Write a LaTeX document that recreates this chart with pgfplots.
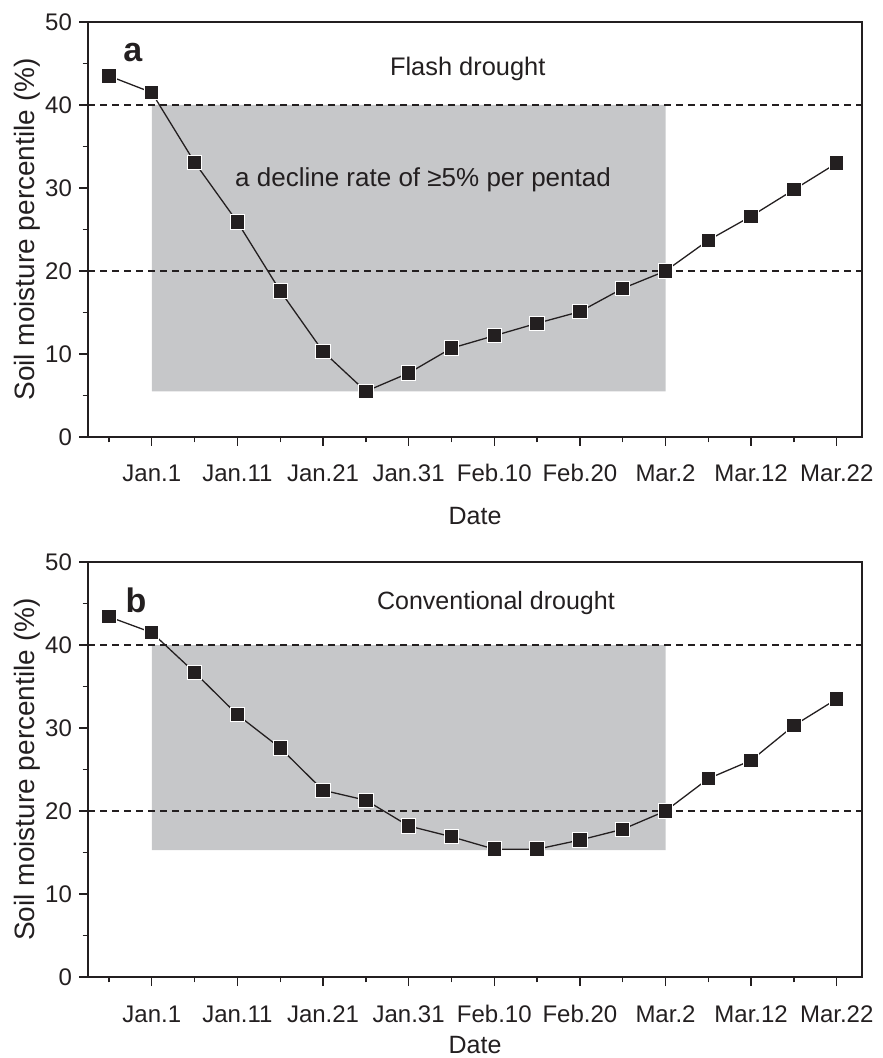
\documentclass[border=0pt]{standalone}
\usepackage{fontspec}
\setmainfont{Liberation Sans}
\usepackage{pgfplots}
\pgfplotsset{compat=1.18}

\definecolor{shade}{RGB}{198,199,201}
\definecolor{ink}{RGB}{35,31,32}

\pgfplotstableread{
x y
0 43.5
1 41.5
2 33.1
3 25.9
4 17.6
5 10.3
6 5.5
7 7.7
8 10.7
9 12.2
10 13.7
11 15.1
12 17.9
13 20.0
14 23.7
15 26.6
16 29.8
17 33.0
}\flash

\pgfplotstableread{
x y
0 43.4
1 41.5
2 36.7
3 31.6
4 27.6
5 22.5
6 21.3
7 18.2
8 16.9
9 15.4
10 15.4
11 16.5
12 17.8
13 20.0
14 23.9
15 26.1
16 30.3
17 33.5
}\conv

\pgfplotsset{
  panel/.style={
    width=387pt, height=207.5pt, scale only axis,
    xmin=-0.49, xmax=17.59, ymin=0, ymax=50,
    xtick={1,3,...,17},
    xticklabels={Jan.1,Jan.11,Jan.21,Jan.31,Feb.10,Feb.20,Mar.2,Mar.12,Mar.22},
    minor xtick={0,2,...,16},
    ytick={0,10,...,50}, minor ytick={5,15,...,45},
    tick align=outside, xtick pos=bottom, ytick pos=left,
    major tick length=4.5pt, minor tick length=2.7pt,
    axis line style={line width=0.8pt, ink},
    tick style={ink, line width=0.7pt},
    /pgf/number format/assume math mode=true,
    xticklabel style={font=\fontsize{12}{14}\selectfont, text=ink, anchor=base, yshift=-18pt},
    yticklabel style={font=\fontsize{12}{14}\selectfont, text=ink},
    ylabel={Soil moisture percentile (\%)},
    ylabel style={font=\fontsize{14}{16}\selectfont, text=ink, at={(axis description cs:0,0.5)}, anchor=center, yshift=30.5pt},
    xlabel={Date},
    xlabel style={font=\fontsize{12.5}{14}\selectfont, text=ink, at={(axis description cs:0.5,0)}, anchor=base},
    clip=false,
  },
  thr/.style={ink, line width=0.6pt, dash pattern=on 3.5pt off 2.5pt, forget plot},
  dat/.style={ink, line width=0.65pt, mark=square*, mark size=3.6pt,
    mark options={fill=ink, draw=white, line width=0.5pt, solid}},
}

\begin{document}
\begin{tikzpicture}
\path[use as bounding box] (0,0) rectangle (441pt,-529pt);

\begin{axis}[panel, at={(44pt,-11pt)}, anchor=north west, xlabel style={yshift=-44pt}]
\addplot[fill=shade, draw=none] coordinates {(1,5.5) (13,5.5) (13,40) (1,40) (1,5.5)};
\addplot[thr] coordinates {(-0.49,40) (17.59,40)};
\addplot[thr] coordinates {(-0.49,20) (17.59,20)};
\addplot[dat] table[x=x, y=y] {\flash};
\node[font=\bfseries\fontsize{17}{18}\selectfont, text=ink, anchor=base] at (axis cs:0.56,45.2) {a};
\node[font=\fontsize{12.7}{15}\selectfont, text=ink, anchor=base] at (axis cs:8.38,43.6) {Flash drought};
\node[font=\fontsize{13}{15}\selectfont, text=ink, anchor=base west, inner sep=0pt] at (axis cs:2.94,30.2) {a decline rate of ≥5\% per pentad};
\end{axis}

\begin{axis}[panel, at={(44pt,-281pt)}, anchor=north west, xlabel style={yshift=-38pt}]
\addplot[fill=shade, draw=none] coordinates {(1,15.3) (13,15.3) (13,40) (1,40) (1,15.3)};
\addplot[thr] coordinates {(-0.49,40) (17.59,40)};
\addplot[thr] coordinates {(-0.49,20) (17.59,20)};
\addplot[dat] table[x=x, y=y] {\conv};
\node[font=\bfseries\fontsize{17}{18}\selectfont, text=ink, anchor=base] at (axis cs:0.63,43.9) {b};
\node[font=\fontsize{12.5}{15}\selectfont, text=ink, anchor=base] at (axis cs:9.04,44.3) {Conventional drought};
\end{axis}
\end{tikzpicture}
\end{document}
